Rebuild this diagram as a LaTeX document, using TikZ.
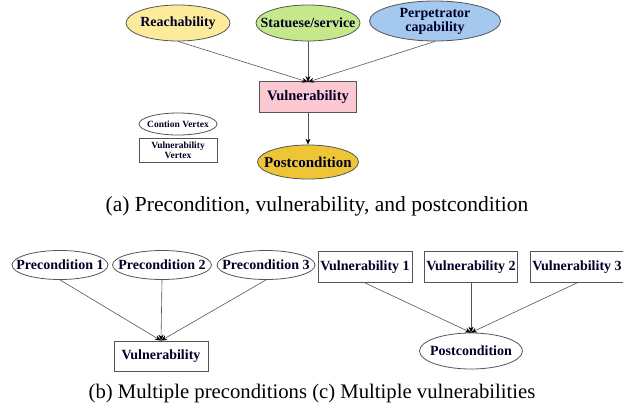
\documentclass[tikz,border=0pt]{standalone}
\usepackage{fontspec}
\setmainfont{Liberation Serif}
\usetikzlibrary{shapes.geometric,arrows.meta}
\definecolor{reach}{HTML}{FDEB9C}
\definecolor{stat}{HTML}{C4E88A}
\definecolor{perp}{HTML}{A4C8EE}
\definecolor{vulpink}{HTML}{FCC8D2}
\definecolor{postgold}{HTML}{EEC535}
\definecolor{edgegray}{HTML}{555555}
\begin{document}
\begin{tikzpicture}[x=1pt,y=-1pt,
  nodefont/.style={font=\bfseries\fontsize{14}{14}\selectfont,align=center,text=black!85!blue},
  cond/.style={ellipse,draw=edgegray,line width=0.8pt,inner sep=0pt},
  condtext/.style={nodefont,inner sep=0pt},
  vbox/.style={rectangle,draw=edgegray,line width=0.8pt,inner sep=0pt,nodefont},
  legtext/.style={font=\bfseries\fontsize{9.5}{10}\selectfont,align=center,inner sep=0pt,text=black!85!blue},
  arr/.style={draw=edgegray,line width=0.6pt,-{Stealth[length=6pt,width=5pt,black]}},
  captext/.style={font=\fontsize{21.5}{21.5}\selectfont,inner sep=0pt}]
\useasboundingbox (0,0) rectangle (623,410);
% (a)
\node[cond,fill=reach,minimum width=104pt,minimum height=36pt] (reach) at (178,23) {};
\node[condtext] at (reach.center) {Reachability};
\node[cond,fill=stat,minimum width=104pt,minimum height=36pt] (stat) at (308,23) {};
\node[condtext] at (stat.center) {Statuese/service};
\node[cond,fill=perp,minimum width=131pt,minimum height=40pt] (perp) at (435,21) {};
\node[condtext] at (perp.center) {Perpetrator\\capability};
\node[vbox,fill=vulpink,minimum width=97pt,minimum height=31pt,font=\bfseries\fontsize{14.5}{14.5}\selectfont] (vul) at (308,97) {Vulnerability};
\node[cond,fill=postgold,minimum width=101pt,minimum height=34pt] (post) at (308,162) {};
\node[condtext,font=\bfseries\fontsize{15}{15}\selectfont] at (post.center) {Postcondition};
\node[cond,minimum width=78pt,minimum height=22pt] (lc) at (178,124) {};
\node[legtext] at (lc.center) {Contion Vertex};
\node[rectangle,draw=edgegray,line width=0.8pt,inner sep=0pt,legtext,minimum width=78pt,minimum height=24pt] (lv) at (178,150) {Vulnerability\\Vertex};
\coordinate (vt) at (308,82);
\draw[arr] (reach.south) -- (vt);
\draw[arr] (stat.south) -- (vt);
\draw[arr] (perp.south) -- (vt);
\draw[arr] (vul) -- (post);
\node[captext] (capa) at (317,206) {(a) Precondition, vulnerability, and postcondition};
% (b)
\node[cond,minimum width=96pt,minimum height=29pt] (p1) at (60,265) {};
\node[condtext] at (p1.center) {Precondition 1};
\node[cond,minimum width=99pt,minimum height=29pt] (p2) at (162,265) {};
\node[condtext] at (p2.center) {Precondition 2};
\node[cond,minimum width=98pt,minimum height=29pt] (p3) at (266,265) {};
\node[condtext] at (p3.center) {Precondition 3};
\node[vbox,minimum width=94pt,minimum height=30pt] (bv) at (161,356) {Vulnerability};
\draw[arr] (p1.south) -- (bv.north);
\draw[arr] (p2.south) -- (bv.north);
\draw[arr] (p3.south) -- (bv.north);
% (c)
\node[vbox,minimum width=94pt,minimum height=31pt] (v1) at (365,267) {Vulnerability 1};
\node[vbox,minimum width=93pt,minimum height=31pt] (v2) at (471,267) {Vulnerability 2};
\node[vbox,minimum width=94pt,minimum height=31pt] (v3) at (577,267) {Vulnerability 3};
\node[cond,minimum width=103pt,minimum height=36pt] (cp) at (471,351) {};
\node[condtext] at (cp.center) {Postcondition};
\draw[arr] (v1.south) -- (cp.north);
\draw[arr] (v2.south) -- (cp.north);
\draw[arr] (v3.south) -- (cp.north);
\node[captext,font=\fontsize{20.7}{20.7}\selectfont] (capb) at (312,394) {(b) Multiple preconditions (c) Multiple vulnerabilities};
\end{tikzpicture}
\end{document}
